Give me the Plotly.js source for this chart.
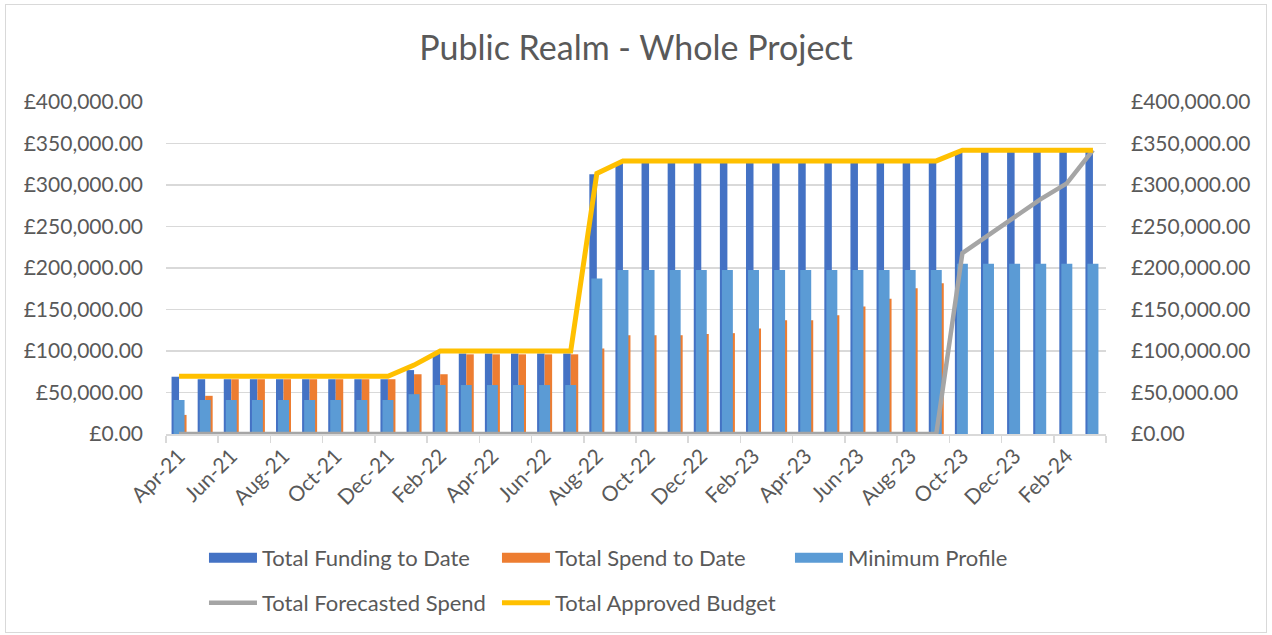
<!DOCTYPE html>
<html>
<head>
<meta charset="utf-8">
<script src="https://cdn.plot.ly/plotly-3.0.1.min.js"></script>
<style>
html,body{margin:0;padding:0;background:#fff;}
#chart{width:1272px;height:635px;}
#frame{position:absolute;left:5px;top:4px;width:1260px;height:627px;border:1px solid #d9d9d9;pointer-events:none;}
</style>
</head>
<body>
<div id="chart"></div>
<div id="frame"></div>
<script>
var months = ['Apr-21','May-21','Jun-21','Jul-21','Aug-21','Sep-21','Oct-21','Nov-21','Dec-21','Jan-22','Feb-22','Mar-22',
  'Apr-22','May-22','Jun-22','Jul-22','Aug-22','Sep-22','Oct-22','Nov-22','Dec-22','Jan-23','Feb-23','Mar-23',
  'Apr-23','May-23','Jun-23','Jul-23','Aug-23','Sep-23','Oct-23','Nov-23','Dec-23','Jan-24','Feb-24','Mar-24'];

var totalFunding = [69000,66000,66000,66000,66000,66000,66000,66000,66000,77000,97000,97000,
  97000,97000,97000,97000,313000,327000,327000,327000,327000,327000,327000,327000,
  327000,327000,327000,327000,327000,327000,340000,340000,340000,340000,340000,340000];

var totalSpend = [23000,46000,66000,66000,66000,66000,66000,66000,66000,72000,72000,96000,
  96000,96000,96000,96000,103000,119000,119000,119000,120500,121500,127000,137000,
  137000,143000,153500,163000,175500,181500,null,null,null,null,null,null];

var minimumProfile = [41000,41000,41000,41000,41000,41000,41000,41000,41000,48000,59000,59000,
  59000,59000,59000,59000,187500,197500,197500,197500,197500,197500,197500,197500,
  197500,197500,197500,197500,197500,197500,205000,205000,205000,205000,205000,205000];

var forecastSpend = [0,0,0,0,0,0,0,0,0,0,0,0,
  0,0,0,0,0,0,0,0,0,0,0,0,
  0,0,0,0,0,0,218000,240000,262000,283000,302000,342000];

var approvedBudget = [69500,69500,69500,69500,69500,69500,69500,69500,69500,83000,100000,100000,
  100000,100000,100000,100000,314000,329000,329000,329000,329000,329000,329000,329000,
  329000,329000,329000,329000,329000,329000,342000,342000,342000,342000,342000,342000];

var FONT = 'Lato, "Open Sans", sans-serif';
var TXT = '#595959';

var traces = [
  {type:'bar', name:'Total Funding to Date', x:months, y:totalFunding, xaxis:'x', yaxis:'y',
   marker:{color:'#4472c4'}, legend:'legend'},
  {type:'bar', name:'Total Spend to Date', x:months, y:totalSpend, xaxis:'x', yaxis:'y',
   marker:{color:'#ed7d31'}, legend:'legend'},
  {type:'bar', name:'Minimum Profile', x:months, y:minimumProfile, xaxis:'x', yaxis:'y2',
   marker:{color:'#5b9bd5'}, width:0.42, legend:'legend'},
  {type:'scatter', mode:'lines', name:'Total Forecasted Spend', x:months, y:forecastSpend, xaxis:'x', yaxis:'y2',
   line:{color:'#a5a5a5', width:4.5}, cliponaxis:false, legend:'legend2'},
  {type:'scatter', mode:'lines', name:'Total Approved Budget', x:months, y:approvedBudget, xaxis:'x', yaxis:'y2',
   line:{color:'#ffc000', width:5}, cliponaxis:false, legend:'legend2'}
];

var yCommon = {
  range:[0,400000], dtick:50000, tick0:0, tickprefix:'£', tickformat:',.2f',
  tickfont:{family:FONT, size:21, color:TXT}, ticks:'', zeroline:false, fixedrange:true
};

var legendCommon = {orientation:'h', xanchor:'left', yanchor:'middle', entrywidth:230, itemwidth:48,
  font:{family:FONT, size:22, color:TXT}, bgcolor:'rgba(0,0,0,0)', traceorder:'normal'};

var layout = {
  width:1272, height:635,
  margin:{l:166, r:166, t:102, b:201, autoexpand:false},
  paper_bgcolor:'#ffffff', plot_bgcolor:'rgba(0,0,0,0)',
  font:{family:FONT, color:TXT},
  title:{text:'Public Realm - Whole Project', x:0.5, xanchor:'center', y:0.924, yanchor:'middle', yref:'container',
         font:{family:FONT, size:34, color:TXT}},
  barmode:'group', bargap:0.425, bargroupgap:0,
  xaxis:{type:'category', tickangle:-45, dtick:2, tickson:'boundaries', ticks:'outside', ticklen:7,
         tickcolor:'#d9d9d9', tickwidth:1.5, showline:true, linecolor:'#d9d9d9', linewidth:1.5,
         showgrid:false, tickfont:{family:FONT, size:21, color:TXT}, range:[-0.5,35.5]},
  yaxis:Object.assign({}, yCommon, {side:'left', showgrid:true, gridcolor:'#d9d9d9', gridwidth:1.5, ticklabelstandoff:22}),
  yaxis2:Object.assign({}, yCommon, {side:'right', overlaying:'y', showgrid:false, ticklabelstandoff:24}),
  showlegend:true,
  legend:Object.assign({}, legendCommon, {x:0.0404, y:-0.3735}),
  legend2:Object.assign({}, legendCommon, {x:0.0404, y:-0.509})
};

function widenSwatches(){
  // make the bar legend swatches wide rectangles like the line swatches
  var paths = document.querySelectorAll('#chart .legend .legendpoints path');
  paths.forEach(function(p){
    var d = p.getAttribute('d') || '';
    if (/^M6,6H-6V-6H6Z$/.test(d) || p.classList.contains('legendbar') || p.classList.contains('legendundefined')) {
      if (d.indexOf('H') !== -1 && d.indexOf('V') !== -1) p.setAttribute('d', 'M24,5H-24V-5H24Z');
    }
  });
}

Plotly.newPlot('chart', traces, layout, {displayModeBar:false, staticPlot:true}).then(function(){
  widenSwatches();
  setTimeout(widenSwatches, 0);
  setTimeout(widenSwatches, 50);
});
</script>
</body>
</html>
